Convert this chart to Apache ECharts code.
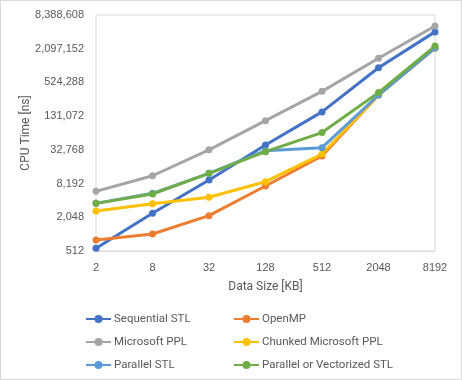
<!DOCTYPE html>
<html><head><meta charset="utf-8">
<script src="https://cdn.jsdelivr.net/npm/echarts@6/dist/echarts.min.js"></script>
<style>html,body{margin:0;padding:0;background:#fff}#c{width:462px;height:380px}</style>
</head><body><div id="c"></div>
<script>
const categories = ['2','8','32','128','512','2048','8192'];
const yTicks = [512, 2048, 8192, 32768, 131072, 524288, 2097152, 8388608];
const sequentialSTL = [575, 2420, 9500, 40000, 156000, 960000, 4190000];
const openMP = [805, 1030, 2190, 7400, 25500, 313000, 2150000];
const microsoftPPL = [5950, 11300, 32768, 109000, 363000, 1420000, 5350000];
const chunkedPPL = [2650, 3570, 4660, 8850, 27600, 313000, 2150000];
const parallelSTL = [3630, 5490, 12500, 31700, 35900, 313000, 2150000];
const parVecSTL = [3630, 5340, 12500, 30400, 66700, 345000, 2340000];

const names = ['Sequential STL','OpenMP','Microsoft PPL','Chunked Microsoft PPL','Parallel STL','Parallel or Vectorized STL'];
const datas = [sequentialSTL, openMP, microsoftPPL, chunkedPPL, parallelSTL, parVecSTL];
const colors = ['#4472C4','#ED7D31','#A5A5A5','#FFC000','#5B9BD5','#70AD47'];
const font = 'Liberation Sans';
const lfont = 'Roboto';
const txt = '#595959';

const chart = echarts.init(document.getElementById('c'), null, {renderer:'canvas'});
const legendCommon = {
  orient:'vertical', itemWidth:25, itemHeight:10, itemGap:11, padding:0,
  textStyle:{color:txt, fontFamily:lfont, fontSize:11.5, padding:[0,0,0,-2]},
};
chart.setOption({
  animation:false,
  color: colors,
  graphic:[{type:'rect', shape:{x:0.5,y:0.5,width:461,height:379}, style:{fill:null, stroke:'#d9d9d9', lineWidth:1}, silent:true}],
  grid:{left:96, right:27, top:15, bottom:129, show:true, borderColor:'#d9d9d9', borderWidth:1},
  xAxis:{
    type:'category', data:categories, boundaryGap:false,
    name:'Data Size [KB]', nameLocation:'middle', nameGap:30,
    nameTextStyle:{color:txt, fontFamily:lfont, fontSize:12},
    axisLine:{lineStyle:{color:'#d9d9d9'}}, axisTick:{show:false},
    axisLabel:{color:txt, fontFamily:font, fontSize:11, margin:11}
  },
  yAxis:{
    type:'log', logBase:2, min:512, max:8388608, interval:2,
    name:'CPU Time [ns]', nameLocation:'middle', nameGap:64, nameMoveOverlap:false,
    nameTextStyle:{color:txt, fontFamily:lfont, fontSize:12},
    axisLine:{show:false}, axisTick:{show:false}, splitLine:{show:false},
    axisLabel:{color:txt, fontFamily:font, fontSize:11, margin:12,
      formatter: v => Math.round(v).toLocaleString('en-US')}
  },
  legend:[
    Object.assign({left:85, top:313, data:[names[0],names[2],names[4]]}, legendCommon),
    Object.assign({left:233, top:313, data:[names[1],names[3],names[5]]}, legendCommon)
  ],
  series: names.map((n,i)=>({
    name:n, type:'line', data:datas[i], symbol:'circle', symbolSize:7,
    lineStyle:{width:3, color:colors[i]}, itemStyle:{color:colors[i]}
  }))
});
</script></body></html>
